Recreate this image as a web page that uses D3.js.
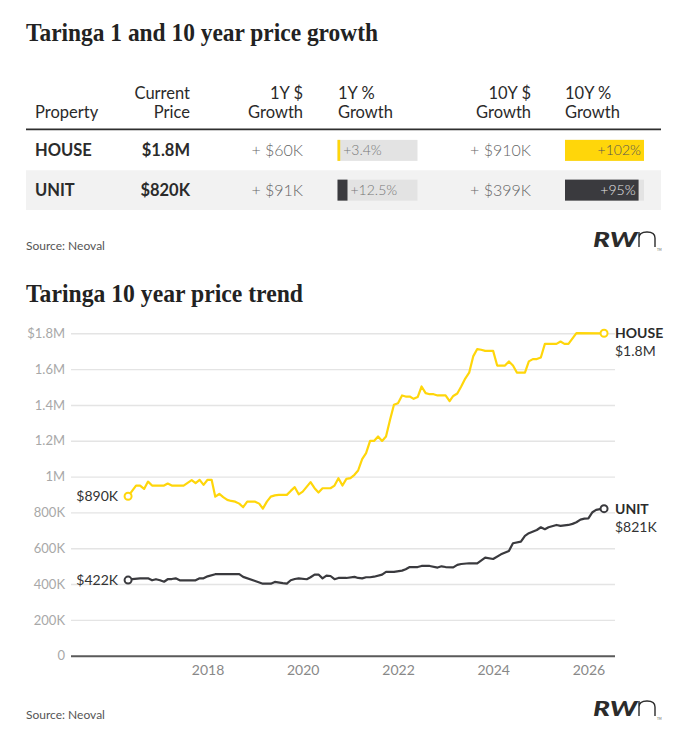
<!DOCTYPE html>
<html>
<head>
<meta charset="utf-8">
<script src="https://cdn.jsdelivr.net/npm/d3@7"></script>
<style>
  body { margin: 0; background: #fff; }
  svg { display: block; }
  text { font-family: Lato, "Open Sans", "Noto Sans", sans-serif; }
  .title { font-family: "Liberation Serif", "DejaVu Serif", serif; font-weight: bold; fill: #222; }
</style>
</head>
<body>
<div id="chart"></div>
<script>
// table data
const properties = ["HOUSE", "UNIT"];
const currentPrice = ["$1.8M", "$820K"];
const growth1yDollar = ["+ $60K", "+ $91K"];
const growth1yPct = [3.4, 12.5];
const growth10yDollar = ["+ $910K", "+ $399K"];
const growth10yPct = [102, 95];

// trend data, month and value in $K
const houseTrend = [
    ["2016-05", 890], ["2016-07", 950], ["2016-08", 950], ["2016-09", 931], ["2016-10", 972],
    ["2016-11", 950], ["2017-02", 950], ["2017-03", 961], ["2017-04", 950], ["2017-07", 950],
    ["2017-09", 980], ["2017-10", 963], ["2017-11", 982], ["2017-12", 954], ["2018-01", 982],
    ["2018-02", 982], ["2018-03", 888], ["2018-04", 903], ["2018-05", 885], ["2018-06", 870],
    ["2018-07", 864], ["2018-08", 860], ["2018-09", 849], ["2018-10", 829], ["2018-11", 860],
    ["2019-01", 860], ["2019-02", 849], ["2019-03", 821], ["2019-04", 860], ["2019-05", 888],
    ["2019-06", 895], ["2019-07", 898], ["2019-09", 898], ["2019-10", 920], ["2019-11", 941],
    ["2019-12", 901], ["2020-01", 916], ["2020-03", 969], ["2020-04", 935], ["2020-05", 911],
    ["2020-06", 935], ["2020-08", 935], ["2020-09", 950], ["2020-10", 991], ["2020-11", 950],
    ["2020-12", 987], ["2021-01", 991], ["2021-02", 1010], ["2021-03", 1034], ["2021-04", 1097],
    ["2021-05", 1131], ["2021-06", 1199], ["2021-07", 1199], ["2021-08", 1224], ["2021-09", 1199],
    ["2021-10", 1224], ["2021-11", 1317], ["2021-12", 1401], ["2022-01", 1410], ["2022-02", 1453],
    ["2022-03", 1447], ["2022-04", 1447], ["2022-05", 1434], ["2022-06", 1444], ["2022-07", 1503],
    ["2022-08", 1466], ["2022-09", 1460], ["2022-10", 1460], ["2022-11", 1453], ["2023-01", 1453],
    ["2023-02", 1421], ["2023-03", 1450], ["2023-04", 1464], ["2023-05", 1503], ["2023-06", 1547],
    ["2023-07", 1580], ["2023-08", 1671], ["2023-09", 1712], ["2023-10", 1708], ["2023-11", 1702],
    ["2024-01", 1702], ["2024-02", 1620], ["2024-04", 1620], ["2024-05", 1643], ["2024-06", 1620],
    ["2024-07", 1581], ["2024-09", 1581], ["2024-10", 1643], ["2024-11", 1656], ["2024-12", 1656],
    ["2025-01", 1665], ["2025-02", 1741], ["2025-05", 1741], ["2025-06", 1754], ["2025-07", 1741],
    ["2025-08", 1741], ["2025-10", 1801], ["2026-05", 1800]
];

const unitTrend = [
    ["2016-05", 422], ["2016-06", 428], ["2016-08", 432], ["2016-10", 432], ["2016-11", 421],
    ["2016-12", 427], ["2017-01", 421], ["2017-02", 413], ["2017-03", 427], ["2017-04", 428],
    ["2017-05", 432], ["2017-06", 421], ["2017-10", 421], ["2017-11", 432], ["2017-12", 432],
    ["2018-01", 443], ["2018-03", 455], ["2018-09", 455], ["2018-10", 440], ["2019-01", 417],
    ["2019-03", 402], ["2019-05", 402], ["2019-06", 412], ["2019-08", 405], ["2019-09", 402],
    ["2019-10", 421], ["2019-11", 428], ["2019-12", 432], ["2020-02", 427], ["2020-03", 438],
    ["2020-04", 453], ["2020-05", 453], ["2020-06", 432], ["2020-07", 447], ["2020-08", 445],
    ["2020-09", 427], ["2020-10", 434], ["2020-12", 434], ["2021-02", 440], ["2021-03", 434],
    ["2021-04", 432], ["2021-05", 438], ["2021-06", 438], ["2021-07", 441], ["2021-09", 453],
    ["2021-10", 468], ["2021-12", 468], ["2022-02", 475], ["2022-03", 483], ["2022-04", 495],
    ["2022-06", 495], ["2022-07", 501], ["2022-09", 501], ["2022-11", 492], ["2022-12", 499],
    ["2023-01", 495], ["2023-03", 493], ["2023-04", 507], ["2023-05", 512], ["2023-07", 516],
    ["2023-09", 516], ["2023-11", 548], ["2024-01", 540], ["2024-03", 566], ["2024-05", 585],
    ["2024-06", 628], ["2024-08", 637], ["2024-09", 669], ["2024-10", 684], ["2024-12", 702],
    ["2025-01", 717], ["2025-02", 706], ["2025-03", 717], ["2025-05", 730], ["2025-06", 725],
    ["2025-08", 730], ["2025-09", 736], ["2025-10", 745], ["2025-11", 760], ["2025-12", 765],
    ["2026-01", 767], ["2026-02", 801], ["2026-03", 814], ["2026-04", 818], ["2026-05", 821]
];

const startLabels = ["$890K", "$422K"];
const endLabels = ["$1.8M", "$821K"];

const yTicks = [0, 200, 400, 600, 800, 1000, 1200, 1400, 1600, 1800];
const yTickLabels = ["0", "200K", "400K", "600K", "800K", "1M", "1.2M", "1.4M", "1.6M", "$1.8M"];
const xTickYears = [2018, 2020, 2022, 2024, 2026];

const yellow = "#ffd60a";
const dark = "#3a3a3e";
const seriesColor = { HOUSE: yellow, UNIT: dark };

const width = 683, height = 740;

const svg = d3.select("#chart")
    .append("svg")
    .attr("width", width)
    .attr("height", height);

// ---------- table ----------
svg.append("text")
    .attr("class", "title")
    .attr("x", 26).attr("y", 41)
    .attr("font-size", 25)
    .attr("textLength", 352)
    .attr("lengthAdjust", "spacingAndGlyphs")
    .text("Taringa 1 and 10 year price growth");

const headers = [
    { lines: ["", "Property"], x: 35, anchor: "start" },
    { lines: ["Current", "Price"], x: 190, anchor: "end" },
    { lines: ["1Y $", "Growth"], x: 303, anchor: "end" },
    { lines: ["1Y %", "Growth"], x: 338, anchor: "start" },
    { lines: ["10Y $", "Growth"], x: 531, anchor: "end" },
    { lines: ["10Y %", "Growth"], x: 565, anchor: "start" }
];

const head = svg.append("g").attr("font-size", 16.5).attr("fill", "#2a2a2a");
headers.forEach(h => {
    h.lines.forEach((t, i) => {
        head.append("text")
            .attr("x", h.x).attr("y", 99 + i * 18.5)
            .attr("text-anchor", h.anchor)
            .text(t);
    });
});

svg.append("line")
    .attr("x1", 26).attr("x2", 661)
    .attr("y1", 129.5).attr("y2", 129.5)
    .attr("stroke", "#2e2e2e").attr("stroke-width", 2.2);

const rowY = d3.scaleBand().domain(properties).range([130.5, 210]);
const bar1 = d3.scaleLinear().domain([0, 100]).range([0, 80]);
const bar10 = d3.scaleLinear().domain([0, 102]).range([0, 79]);

const rows = svg.append("g")
    .selectAll("g")
    .data(properties)
    .enter()
    .append("g")
    .attr("transform", d => `translate(0,${rowY(d)})`);

rows.append("rect")
    .attr("x", 26).attr("width", 635)
    .attr("y", 0).attr("height", rowY.bandwidth())
    .attr("fill", (d, i) => i % 2 ? "#f2f2f2" : "#fff");

const mid = rowY.bandwidth() / 2;

rows.append("text")
    .attr("x", 35).attr("y", mid + 6)
    .attr("font-size", 16.5).attr("font-weight", "bold").attr("fill", "#2b2b2b")
    .text(d => d);

rows.append("text")
    .attr("x", 190).attr("y", mid + 6)
    .attr("text-anchor", "end")
    .attr("font-size", 16.5).attr("font-weight", "bold").attr("fill", "#2b2b2b")
    .text((d, i) => currentPrice[i]);

rows.append("text")
    .attr("x", 303).attr("y", mid + 6)
    .attr("text-anchor", "end")
    .attr("font-size", 16).attr("font-weight", 300).attr("fill", "#666")
    .text((d, i) => growth1yDollar[i]);

rows.append("text")
    .attr("x", 531).attr("y", mid + 6)
    .attr("text-anchor", "end")
    .attr("font-size", 16).attr("font-weight", 300).attr("fill", "#666")
    .text((d, i) => growth10yDollar[i]);

// 1Y % bars
rows.append("rect")
    .attr("x", 337.5).attr("y", mid - 10.5)
    .attr("width", bar1(100)).attr("height", 21)
    .attr("fill", "#e3e3e3");
rows.append("rect")
    .attr("x", 337.5).attr("y", mid - 10.5)
    .attr("width", (d, i) => bar1(growth1yPct[i])).attr("height", 21)
    .attr("fill", d => seriesColor[d]);
rows.append("text")
    .attr("x", (d, i) => 337.5 + bar1(growth1yPct[i]) + 3)
    .attr("y", mid + 5)
    .attr("font-size", 14).attr("font-weight", 300).attr("fill", "#777")
    .text((d, i) => "+" + growth1yPct[i] + "%");

// 10Y % bars
rows.append("rect")
    .attr("x", 565).attr("y", mid - 10.5)
    .attr("width", bar10(102)).attr("height", 21)
    .attr("fill", "#e3e3e3");
rows.append("rect")
    .attr("x", 565).attr("y", mid - 10.5)
    .attr("width", (d, i) => bar10(growth10yPct[i])).attr("height", 21)
    .attr("fill", d => seriesColor[d]);
rows.append("text")
    .attr("x", (d, i) => 565 + bar10(growth10yPct[i]) - 3)
    .attr("y", mid + 5)
    .attr("text-anchor", "end")
    .attr("font-size", 14).attr("font-weight", 300)
    .attr("fill", d => d === "UNIT" ? "#e6e6e6" : "#555")
    .text((d, i) => "+" + growth10yPct[i] + "%");

// source + logo
function footer(y) {
    svg.append("text")
        .attr("x", 26).attr("y", y)
        .attr("font-size", 12).attr("fill", "#555")
        .text("Source: Neoval");

    const g = svg.append("g").attr("transform", `translate(0,${y - 3})`);
    g.append("text")
        .attr("x", 593).attr("y", 0)
        .attr("font-size", 21).attr("font-weight", 900).attr("font-style", "italic")
        .attr("fill", "#2b2b2b")
        .attr("textLength", 44).attr("lengthAdjust", "spacingAndGlyphs")
        .text("RW");
    g.append("path")
        .attr("d", "M639,0V-15M639,-9Q639,-15,647,-15Q655,-15,655,-9V0")
        .attr("fill", "none").attr("stroke", "#2b2b2b").attr("stroke-width", 1.4);
    g.append("text")
        .attr("x", 657).attr("y", 4)
        .attr("font-size", 3).attr("fill", "#555")
        .text("TM");
}
footer(250);
footer(719);

// ---------- trend chart ----------
svg.append("text")
    .attr("class", "title")
    .attr("x", 26).attr("y", 302)
    .attr("font-size", 25)
    .attr("textLength", 277)
    .attr("lengthAdjust", "spacingAndGlyphs")
    .text("Taringa 10 year price trend");

const parseMonth = d3.timeParse("%Y-%m");
const series = [
    { name: "HOUSE", values: houseTrend.map(d => ({ date: parseMonth(d[0]), value: d[1] })) },
    { name: "UNIT", values: unitTrend.map(d => ({ date: parseMonth(d[0]), value: d[1] })) }
];

const x = d3.scaleTime()
    .domain([new Date(2015, 1, 18), new Date(2026, 6, 24)])
    .range([71, 615]);
const y = d3.scaleLinear()
    .domain([0, 1800])
    .range([655.7, 333.3]);

// y axis with gridlines
const yAxis = svg.append("g")
    .attr("transform", "translate(71,0)")
    .call(d3.axisLeft(y)
        .tickValues(yTicks)
        .tickSize(-544)
        .tickPadding(6)
        .tickFormat((d, i) => yTickLabels[i]));
yAxis.select(".domain").remove();
yAxis.selectAll(".tick line")
    .attr("stroke", d => d === 0 ? "#5a5a5a" : "#e4e4e4")
    .attr("stroke-width", d => d === 0 ? 2 : 1.4);
yAxis.selectAll(".tick text")
    .attr("font-family", "Lato, sans-serif")
    .attr("font-size", 13)
    .attr("fill", "#a8a8a8");

// x axis
const xAxis = svg.append("g")
    .attr("transform", "translate(0,656)")
    .call(d3.axisBottom(x)
        .tickValues(xTickYears.map(yr => new Date(yr, 0, 1)))
        .tickSize(0)
        .tickPadding(9)
        .tickFormat(d3.timeFormat("%Y")));
xAxis.select(".domain").remove();
xAxis.selectAll(".tick text")
    .attr("font-family", "Lato, sans-serif")
    .attr("font-size", 14)
    .attr("fill", "#888");

const line = d3.line()
    .x(d => x(d.date))
    .y(d => y(d.value));

const lines = svg.append("g")
    .selectAll("g")
    .data(series)
    .enter()
    .append("g");

lines.append("path")
    .attr("d", d => line(d.values))
    .attr("fill", "none")
    .attr("stroke", d => seriesColor[d.name])
    .attr("stroke-width", 2.2)
    .attr("stroke-linejoin", "round");

// start and end markers
lines.selectAll("circle")
    .data(d => [d.values[0], d.values[d.values.length - 1]].map(v => ({ v, name: d.name })))
    .enter()
    .append("circle")
    .attr("cx", d => x(d.v.date))
    .attr("cy", d => y(d.v.value))
    .attr("r", 3.5)
    .attr("fill", "#fff")
    .attr("stroke", d => seriesColor[d.name])
    .attr("stroke-width", 2);

lines.append("text")
    .attr("x", d => x(d.values[0].date) - 10)
    .attr("y", d => y(d.values[0].value) + 5)
    .attr("text-anchor", "end")
    .attr("font-size", 14).attr("fill", "#333")
    .text((d, i) => startLabels[i]);

lines.append("text")
    .attr("x", 615)
    .attr("y", d => y(d.values[d.values.length - 1].value) + 5)
    .attr("font-size", 14).attr("font-weight", "bold").attr("fill", "#2b2b2b")
    .text(d => d.name);

lines.append("text")
    .attr("x", 615)
    .attr("y", d => y(d.values[d.values.length - 1].value) + 23)
    .attr("font-size", 14).attr("fill", "#333")
    .text((d, i) => endLabels[i]);
</script>
</body>
</html>
